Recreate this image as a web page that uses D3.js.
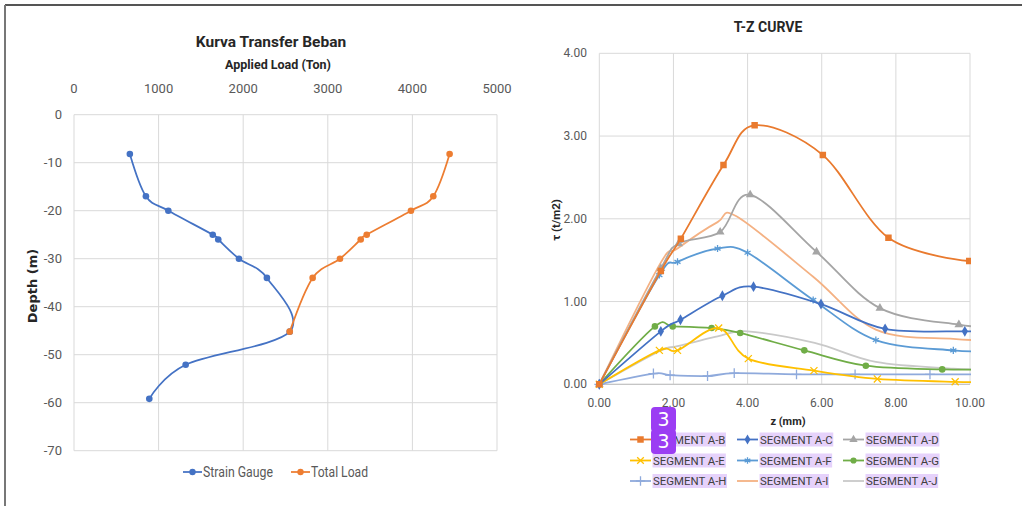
<!DOCTYPE html>
<html>
<head>
<meta charset="utf-8">
<script src="https://cdn.jsdelivr.net/npm/d3@7"></script>
<style>
  body { margin: 0; background: #fff; }
  svg { display: block; font-family: "Roboto", sans-serif; }
</style>
</head>
<body>
<div id="chart"></div>
<script>
// ---- left chart: load transfer ----
const loadTicks = [0, 1000, 2000, 3000, 4000, 5000];
const depthTicks = [0, -10, -20, -30, -40, -50, -60, -70];
const gaugeDepth = [-8.2, -17, -20, -25, -26, -30, -34, -45.2, -52.1, -59.2];
const strainGauge = [660, 850, 1115, 1640, 1705, 1950, 2280, 2550, 1320, 890];
const totalDepth = [-8.2, -17, -20, -25, -26, -30, -34, -45.2];
const totalLoad = [4440, 4247, 3983, 3460, 3389, 3144, 2821, 2550];

// ---- right chart: t-z curves ----
const zTicks = [0, 2, 4, 6, 8, 10];
const tauTicks = [0, 1, 2, 3, 4];
const segNames = ["SEGMENT A-B", "SEGMENT A-C", "SEGMENT A-D", "SEGMENT A-E", "SEGMENT A-F",
  "SEGMENT A-G", "SEGMENT A-H", "SEGMENT A-I", "SEGMENT A-J"];
const zAB = [0, 1.66, 2.2, 3.35, 4.19, 6.03, 7.8, 9.98];
const tauAB = [0, 1.37, 1.76, 2.65, 3.13, 2.77, 1.77, 1.49];
const zAC = [0, 1.66, 2.19, 3.32, 4.16, 5.98, 7.71, 9.86, 10.6];
const tauAC = [0, 0.64, 0.78, 1.07, 1.18, 0.97, 0.67, 0.64, 0.64];
const zAD = [0, 1.66, 2.14, 3.26, 4.07, 5.86, 7.57, 9.7, 10.6];
const tauAD = [0, 1.4, 1.7, 1.84, 2.29, 1.6, 0.92, 0.72, 0.7];
const zAE = [0, 1.62, 2.11, 3.22, 4.02, 5.79, 7.5, 9.6, 10.6];
const tauAE = [0, 0.41, 0.41, 0.68, 0.31, 0.165, 0.065, 0.03, 0.03];
const zAF = [0, 1.62, 2.11, 3.19, 4.0, 5.77, 7.46, 9.55, 10.6];
const tauAF = [0, 1.32, 1.48, 1.64, 1.59, 1.02, 0.535, 0.41, 0.4];
const zAG = [0, 1.5, 1.98, 3.03, 3.8, 5.53, 7.19, 9.25, 10.6];
const tauAG = [0, 0.7, 0.7, 0.68, 0.62, 0.41, 0.225, 0.18, 0.18];
const zAH = [0, 1.46, 1.91, 2.92, 3.64, 5.32, 6.9, 8.92, 10.6];
const tauAH = [0, 0.13, 0.11, 0.1, 0.135, 0.12, 0.12, 0.12, 0.12];
const zAI = [0, 1.62, 2.11, 3.19, 3.7, 5.77, 7.46, 9.55, 10.6];
const tauAI = [0, 1.44, 1.64, 1.96, 2.03, 1.3, 0.66, 0.55, 0.53];
const zAJ = [0, 1.62, 2.11, 3.19, 4.0, 5.81, 7.46, 9.55, 10.6];
const tauAJ = [0, 0.4, 0.46, 0.58, 0.64, 0.5, 0.27, 0.19, 0.18];

const segZ = [zAB, zAC, zAD, zAE, zAF, zAG, zAH, zAI, zAJ];
const segTau = [tauAB, tauAC, tauAD, tauAE, tauAF, tauAG, tauAH, tauAI, tauAJ];
const segColors = ["#E97A2E", "#4472C4", "#A5A5A5", "#FFC000", "#5B9BD5", "#70AD47", "#8FAADC", "#F4B183", "#C9C9C9"];
const segSymbols = [d3.symbolSquare, d3.symbolDiamond, d3.symbolTriangle, d3.symbolTimes,
  d3.symbolAsterisk, d3.symbolCircle, d3.symbolPlus, null, null];
const segFilled = [true, true, true, false, false, true, false, false, false];

const W = 1022, H = 506;
const svg = d3.select("#chart").append("svg").attr("width", W).attr("height", H);

// frame lines
svg.append("line").attr("x1", 5).attr("x2", W).attr("y1", 5).attr("y2", 5)
  .attr("stroke", "#555").attr("stroke-width", 2);
svg.append("line").attr("x1", 5).attr("x2", 5).attr("y1", 5).attr("y2", H)
  .attr("stroke", "#777").attr("stroke-width", 2);

const grid = "#D9D9D9", tickCol = "#595959";

// ===== left chart =====
const lx = d3.scaleLinear().domain([0, 5000]).range([74, 497]);
const ly = d3.scaleLinear().domain([0, -70]).range([114.7, 450.7]);
const L = svg.append("g");

L.selectAll(".vg").data(loadTicks).join("line")
  .attr("x1", d => lx(d)).attr("x2", d => lx(d)).attr("y1", ly(0)).attr("y2", ly(-70))
  .attr("stroke", grid);
L.selectAll(".hg").data(depthTicks).join("line")
  .attr("x1", lx(0)).attr("x2", lx(5000)).attr("y1", d => ly(d)).attr("y2", d => ly(d))
  .attr("stroke", grid);

L.append("g").selectAll("text").data(loadTicks).join("text")
  .attr("x", d => lx(d)).attr("y", 93).attr("text-anchor", "middle")
  .attr("font-size", 13).attr("fill", tickCol).text(d => d);
L.append("g").selectAll("text").data(depthTicks).join("text")
  .attr("x", 62).attr("y", d => ly(d) + 4.5).attr("text-anchor", "end")
  .attr("font-size", 13).attr("fill", tickCol).text(d => d);

L.append("text").attr("x", 271).attr("y", 47).attr("text-anchor", "middle")
  .attr("font-size", 15.5).attr("font-weight", "bold").attr("fill", "#262626").text("Kurva Transfer Beban");
L.append("text").attr("x", 278).attr("y", 69).attr("text-anchor", "middle")
  .attr("font-size", 12.5).attr("font-weight", "bold").attr("fill", "#262626").text("Applied Load (Ton)");
L.append("text").attr("transform", "translate(37,286) rotate(-90)").attr("text-anchor", "middle")
  .attr("font-size", 13).attr("font-weight", "bold").attr("fill", "#262626")
  .attr("font-family", "'DejaVu Sans', sans-serif").text("Depth (m)");

const smooth = d3.curveCatmullRom.alpha(0);
const leftLine = d3.line().x(d => lx(d[0])).y(d => ly(d[1])).curve(smooth);
const gaugePts = strainGauge.map((v, i) => [v, gaugeDepth[i]]);
const totalPts = totalLoad.map((v, i) => [v, totalDepth[i]]);
[[gaugePts, "#4472C4"], [totalPts, "#ED7D31"]].forEach(([pts, c]) => {
  L.append("path").attr("d", leftLine(pts)).attr("fill", "none").attr("stroke", c).attr("stroke-width", 1.75);
  L.append("g").selectAll("circle").data(pts).join("circle")
    .attr("cx", d => lx(d[0])).attr("cy", d => ly(d[1])).attr("r", 3.3).attr("fill", c);
});

// left legend
const leftLegend = [["Strain Gauge", "#4472C4", 183, 70], ["Total Load", "#ED7D31", 291, 57]];
leftLegend.forEach(([name, c, x0, len]) => {
  L.append("line").attr("x1", x0).attr("x2", x0 + 19).attr("y1", 472).attr("y2", 472)
    .attr("stroke", c).attr("stroke-width", 1.75);
  L.append("circle").attr("cx", x0 + 9.5).attr("cy", 472).attr("r", 3.2).attr("fill", c);
  L.append("text").attr("x", x0 + 20).attr("y", 477).attr("font-size", 14.5)
    .attr("textLength", len).attr("lengthAdjust", "spacingAndGlyphs")
    .attr("fill", tickCol).text(name);
});

// ===== right chart =====
const rx = d3.scaleLinear().domain([0, 10]).range([599.3, 970]);
const ry = d3.scaleLinear().domain([0, 4]).range([384.3, 53.3]);
const R = svg.append("g");

R.selectAll(".vg").data(zTicks).join("line")
  .attr("x1", d => rx(d)).attr("x2", d => rx(d)).attr("y1", ry(0)).attr("y2", ry(4))
  .attr("stroke", grid);
R.selectAll(".hg").data(tauTicks).join("line")
  .attr("x1", rx(0)).attr("x2", rx(10)).attr("y1", d => ry(d)).attr("y2", d => ry(d))
  .attr("stroke", grid);
R.append("line").attr("x1", rx(0)).attr("x2", rx(10)).attr("y1", ry(0)).attr("y2", ry(0)).attr("stroke", "#BFBFBF");

R.append("g").selectAll("text").data(zTicks).join("text")
  .attr("x", d => rx(d)).attr("y", 407).attr("text-anchor", "middle")
  .attr("font-size", 12).attr("fill", tickCol).text(d => d3.format(".2f")(d));
R.append("g").selectAll("text").data(tauTicks).join("text")
  .attr("x", 587).attr("y", d => ry(d) + 4).attr("text-anchor", "end")
  .attr("font-size", 12).attr("fill", tickCol).text(d => d3.format(".2f")(d));

R.append("text").attr("x", 768).attr("y", 32).attr("text-anchor", "middle")
  .attr("font-size", 14).attr("font-weight", "bold").attr("fill", "#262626").text("T-Z CURVE");
R.append("text").attr("x", 788).attr("y", 425).attr("text-anchor", "middle")
  .attr("font-size", 11).attr("font-weight", "bold").attr("fill", "#262626").text("z (mm)");
R.append("text").attr("transform", "translate(560,220) rotate(-90)").attr("text-anchor", "middle")
  .attr("font-size", 11.5).attr("font-weight", "bold").attr("fill", "#262626").text("τ (t/m2)");

svg.append("clipPath").attr("id", "rclip").append("rect")
  .attr("x", rx(0) - 6).attr("y", ry(4)).attr("width", rx(10) - rx(0) + 7).attr("height", ry(0) - ry(4) + 6);
const plot = R.append("g").attr("clip-path", "url(#rclip)");
const rightLine = d3.line().x(d => rx(d[0])).y(d => ry(d[1])).curve(smooth);

function marker(g, sym, c, filled, size) {
  g.append("path").attr("d", d3.symbol(sym, size)())
    .attr("fill", filled ? c : "none").attr("stroke", c).attr("stroke-width", filled ? 0 : 1.3);
}

// draw from back (last series) to front
d3.range(segNames.length).reverse().forEach(i => {
  const pts = segZ[i].map((z, j) => [z, segTau[i][j]]);
  plot.append("path").attr("d", rightLine(pts)).attr("fill", "none")
    .attr("stroke", segColors[i]).attr("stroke-width", 1.8);
  if (segSymbols[i]) {
    pts.forEach(p => {
      const g = plot.append("g").attr("transform", `translate(${rx(p[0])},${ry(p[1])})`);
      marker(g, segSymbols[i], segColors[i], segFilled[i], i === 0 ? 42 : 34);
    });
  }
});

// right legend
const colX = [630, 737, 843], rowY = [439.5, 460.5, 481];
segNames.forEach((name, i) => {
  const x0 = colX[i % 3], y0 = rowY[Math.floor(i / 3)];
  const g = R.append("g");
  g.append("line").attr("x1", x0).attr("x2", x0 + 21).attr("y1", y0).attr("y2", y0)
    .attr("stroke", segColors[i]).attr("stroke-width", 1.8);
  if (segSymbols[i]) {
    const mg = g.append("g").attr("transform", `translate(${x0 + 10.5},${y0})`);
    marker(mg, segSymbols[i], segColors[i], segFilled[i], i === 0 ? 42 : 30);
  }
  const t = g.append("text").attr("x", x0 + 23).attr("y", y0 + 4.2)
    .attr("font-size", 11.4).attr("fill", "#404040").text(name);
  const bb = t.node().getBBox();
  g.insert("rect", "text").attr("x", bb.x - 0.5).attr("y", y0 - 7).attr("width", bb.width + 1).attr("height", 14)
    .attr("fill", "#E6D2FB");
});

// purple count badges over the first legend entry
[[651, 407], [651, 429]].forEach(([bx, by]) => {
  R.append("rect").attr("x", bx).attr("y", by).attr("width", 25).attr("height", 25).attr("rx", 4)
    .attr("fill", "#9B3DF3");
  R.append("text").attr("x", bx + 12.5).attr("y", by + 19).attr("text-anchor", "middle")
    .attr("font-size", 19).attr("fill", "#fff").attr("font-family", "'DejaVu Sans', sans-serif").text("3");
});
</script>
</body>
</html>
